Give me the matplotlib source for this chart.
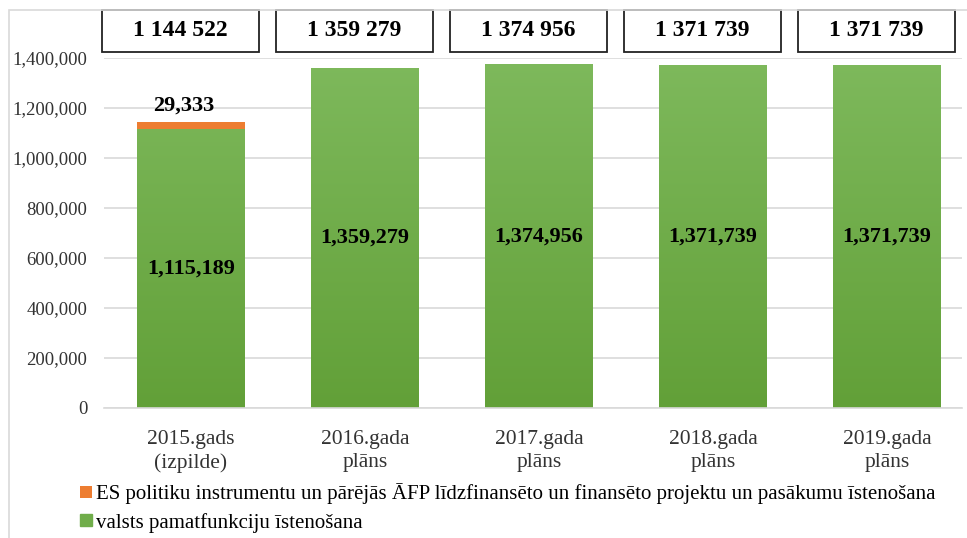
import numpy as np
import matplotlib
matplotlib.use("Agg")
from matplotlib import pyplot as plt
from matplotlib.patches import Rectangle
from matplotlib.ticker import FuncFormatter
import matplotlib.transforms as mtransforms

# Dati
categories = ["2015.gads\n(izpilde)", "2016.gada\nplāns", "2017.gada\nplāns",
              "2018.gada\nplāns", "2019.gada\nplāns"]
pamatfunkcijas = [1115189, 1359279, 1374956, 1371739, 1371739]
es_projekti = [29333, 0, 0, 0, 0]
totals_text = ["1 144 522", "1 359 279", "1 374 956", "1 371 739", "1 371 739"]

legend_es = "ES politiku instrumentu un pārējās ĀFP līdzfinansēto un finansēto projektu un pasākumu īstenošana"
legend_valsts = "valsts pamatfunkciju īstenošana"

plt.rcParams['font.family'] = ['Liberation Serif', 'DejaVu Serif']

green_top = np.array([126, 185, 92]) / 255
green_bot = np.array([98, 160, 56]) / 255
orange = "#ed7d31"
grid_c = "#d9d9d9"

W, H = 967, 538
fig = plt.figure(figsize=(W / 100, H / 100), dpi=100)
ax = fig.add_axes([104 / W, 1 - 408 / H, (962 - 104) / W, (408 - 58) / H])

x = np.arange(len(categories))
bw = 0.62

# Gradients krāsa stabiem
grad = np.linspace(0, 1, 256).reshape(-1, 1)
cols = green_bot[None, :] * (1 - grad) + green_top[None, :] * grad
grad_img = cols.reshape(256, 1, 3)

bars_g = ax.bar(x, pamatfunkcijas, bw, color=green_top, zorder=2, label=legend_valsts)
for b in bars_g:
    bx = b.get_x()
    im = ax.imshow(grad_img, extent=[bx, bx + b.get_width(), 0, 1400000],
                   origin="lower", aspect="auto", zorder=2.5)
    im.set_clip_path(b)
bars_o = ax.bar(x, es_projekti, bw, bottom=pamatfunkcijas, color=orange, zorder=3, label=legend_es)

ax.set_xlim(-0.5, 4.43)
ax.set_ylim(0, 1400000)
ax.set_yticks(np.arange(0, 1400001, 200000))
ax.yaxis.set_major_formatter(FuncFormatter(lambda v, p: f"{int(v):,}"))
ax.set_xticks(x)
ax.set_xticklabels(categories, color="#222222", linespacing=1.3)
ax.tick_params(axis="both", length=0, colors="#333333")
ax.tick_params(axis="x", pad=16, labelsize=15.5)
ax.tick_params(axis="y", pad=12, labelsize=13.5)
ax.grid(axis="y", color=grid_c, linewidth=1.2, zorder=0)
for s in ["top", "right", "left"]:
    ax.spines[s].set_visible(False)
ax.spines["bottom"].set_color(grid_c)
ax.spines["bottom"].set_linewidth(1.2)

# Vērtības stabos
for i, v in enumerate(pamatfunkcijas):
    ax.text(x[i], v / 2, f"{v:,}", ha="center", va="center",
            fontsize=16, fontweight="bold", color="black", zorder=4)
for i, v in enumerate(es_projekti):
    if v > 0:
        ax.annotate(f"{v:,}", (x[i], pamatfunkcijas[i] + v), xytext=(-5, 12),
                    textcoords="offset points", ha="center", va="center",
                    fontsize=16, fontweight="bold", zorder=4)

# Kopsummas rāmjos virs stabiem
trans = mtransforms.blended_transform_factory(ax.transData, fig.transFigure)
box_w = 0.9
for i, t in enumerate(totals_text):
    cx = x[i] - 0.06
    ax.add_patch(Rectangle((cx - box_w / 2, 1 - 52 / H), box_w, 42 / H,
                           transform=trans, fill=False, edgecolor="#222222",
                           linewidth=1.3, clip_on=False))
    ax.text(cx, 1 - 31 / H, t, transform=trans, ha="center", va="center",
            fontsize=17, fontweight="bold")

# Leģenda
handles, labels = ax.get_legend_handles_labels()
leg = fig.legend(handles[::-1], labels[::-1], loc="upper left",
                 bbox_to_anchor=(70 / W, 1 - 473 / H), frameon=False,
                 fontsize=15, handlelength=0.55, handleheight=0.55,
                 handletextpad=0.2, labelspacing=0.4, borderpad=0)
for h in leg.legend_handles:
    h.set_edgecolor("none")
leg.legend_handles[1].set_color(green_bot * 0.5 + green_top * 0.5)

# Ārējais rāmis
fig.add_artist(Rectangle((9 / W, -0.01), 1.0, 1 - 10 / H + 0.01,
                         transform=fig.transFigure, fill=False,
                         edgecolor=grid_c, linewidth=1.2))

fig.savefig("out.png", dpi=100)
